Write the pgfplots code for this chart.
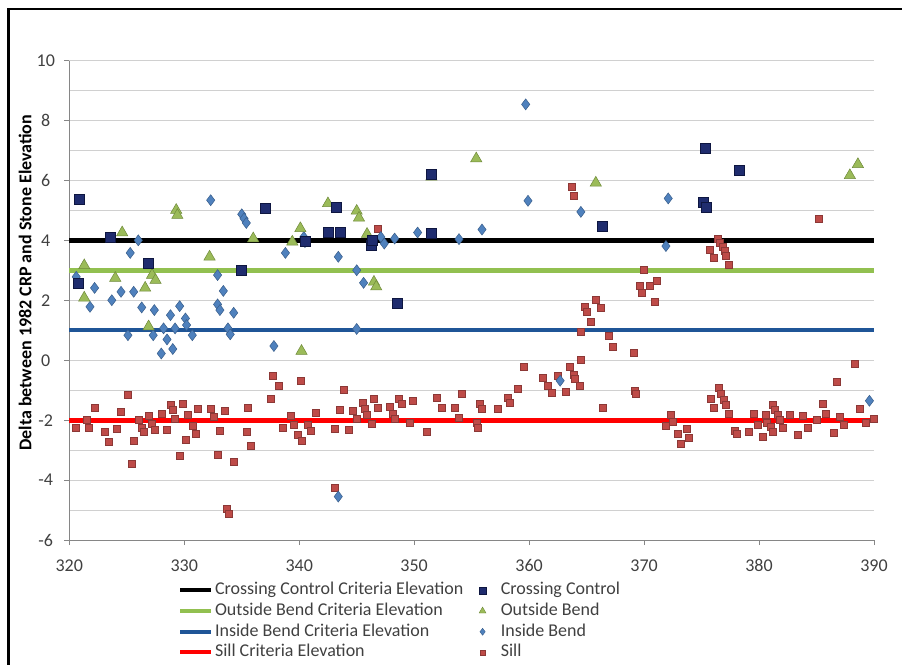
\documentclass[border=0pt]{standalone}
\usepackage{fontspec}
\setmainfont{Carlito}
\usepackage{pgfplots}
\pgfplotsset{compat=1.18}
\definecolor{ccfill}{HTML}{1F2C6E}
\definecolor{ccdraw}{HTML}{0E1640}
\definecolor{obfill}{HTML}{9BBB59}
\definecolor{obdraw}{HTML}{6F8A3A}
\definecolor{ibfill}{HTML}{4F81BD}
\definecolor{ibdraw}{HTML}{385D8A}
\definecolor{sifill}{HTML}{BE4B48}
\definecolor{sidraw}{HTML}{8C3836}
\definecolor{obline}{HTML}{92C050}
\definecolor{ibline}{HTML}{1F5597}
\definecolor{txt}{HTML}{404040}
\definecolor{gridc}{HTML}{D0D0D0}
\definecolor{axc}{HTML}{868686}
\pgfplotsset{
 critline/.style={legend image code/.code={\draw[##1] (0pt,0pt) -- (31pt,0pt);}},
 markimg/.style={legend image code/.code={\path (0pt,0pt) (21pt,0pt); \draw[##1] plot coordinates {(5pt,0pt)};}},
}
\begin{document}
\begin{tikzpicture}[x=1pt,y=1pt]
\path[use as bounding box] (0,0) rectangle (902,664);
\draw[line width=2.5pt] (8.3,-5) -- (8.3,655) -- (910,655);
\begin{axis}[
 at={(69.3pt,124pt)}, anchor=south west,
 width=804.7pt, height=479pt, scale only axis,
 xmin=320, xmax=390, ymin=-6, ymax=10,
 xtick={320,330,...,390}, ytick={-6,-4,...,10},
 minor y tick num=1,
 ymajorgrids, yminorgrids,
 major grid style={gridc, line width=1pt},
 minor grid style={gridc, line width=1pt},
 axis x line*=bottom, axis y line*=left,
 axis line style={axc, line width=1pt},
 tick style={axc, line width=1pt},
 major tick length=5pt, minor tick length=0pt,
 tick align=outside,
 clip=false,
 /pgf/number format/assume math mode=true,
 /pgf/number format/.cd, 1000 sep={}, /pgfplots/.cd,
 tick label style={font=\fontsize{18}{20}\selectfont, text=txt},
 yticklabel style={text width=22pt, align=center, xshift=-4pt},
 xticklabel style={yshift=-11pt},
 ylabel={Delta between 1982 CRP and Stone Elevation},
 ylabel style={font=\fontsize{18}{20}\selectfont\bfseries, text=black, at={(axis description cs:-0.055,0.537)}, anchor=center},
 legend columns=2,
 legend style={draw=none, fill=none, at={(axis description cs:0.1351,-0.0835)}, anchor=north west, inner sep=0pt, outer sep=0pt,
   font=\fontsize{18}{20}\selectfont, text=txt,
   nodes={inner xsep=2pt, inner ysep=1.85pt, text height=13pt, text depth=4pt},
   /tikz/every even column/.append style={column sep=12pt}},
 legend cell align=left,
]
% criteria lines
\addplot[forget plot, black, line width=5pt] coordinates {(320,4) (390,4)};
\addplot[forget plot, obline, line width=4.5pt] coordinates {(320,3) (390,3)};
\addplot[forget plot, ibline, line width=4pt] coordinates {(320,1) (390,1)};
% Sill
\addplot[forget plot, only marks, mark=square*, mark size=3.5pt, mark options={fill=sifill, draw=sidraw, line width=0.5pt}] coordinates {
(320.6,-2.24)(321.5,-1.97)(321.7,-2.24)(322.2,-1.57)(323.1,-2.37)(323.4,-2.73)(324.1,-2.28)(324.5,-1.72)(325.1,-1.16)(325.4,-3.45)
(325.6,-2.69)(326.0,-1.99)(326.3,-2.25)(326.5,-2.39)(326.9,-1.84)(327.2,-2.13)(327.4,-2.32)(328.0,-1.77)(328.5,-2.32)(328.8,-1.47)
(329.0,-1.66)(329.2,-1.94)(329.6,-3.17)(329.9,-1.46)(330.1,-2.64)(330.3,-1.80)(330.7,-2.17)(331.0,-2.44)(331.2,-1.62)(332.3,-1.62)
(332.6,-1.88)(332.9,-3.15)(333.1,-2.34)(333.5,-1.69)(333.7,-4.97)(333.9,-5.11)(334.3,-3.38)(335.4,-2.37)(335.5,-1.57)(335.8,-2.84)
(337.5,-1.27)(337.7,-0.51)(338.2,-0.86)(338.6,-2.25)(339.3,-1.86)(339.5,-2.14)(339.9,-2.47)(340.1,-0.68)(340.2,-2.68)(340.7,-2.14)
(341.0,-2.36)(341.4,-1.75)(343.1,-2.27)(343.1,-4.27)(343.5,-1.64)(343.9,-0.99)(344.3,-2.33)(344.7,-1.68)(345.0,-1.94)(345.5,-1.42)
(345.7,-1.60)(345.9,-1.80)(346.3,-2.13)(346.5,-1.29)(346.8,-1.58)(346.8,4.40)(347.9,-1.55)(348.1,-1.77)(348.3,-1.94)(348.7,-1.27)
(348.9,-1.46)(349.6,-2.10)(349.9,-1.35)(351.1,-2.40)(352.0,-1.24)(352.4,-1.59)(353.5,-1.57)(353.9,-1.90)(354.1,-1.12)(355.4,-2.08)
(355.5,-2.24)(355.7,-1.46)(355.9,-1.62)(357.3,-1.63)(358.1,-1.24)(358.3,-1.40)(359.0,-0.94)(359.5,-0.22)(361.2,-0.58)(361.6,-0.86)
(362.0,-1.07)(362.5,-0.52)(363.2,-1.05)(363.5,-0.22)(363.7,5.79)(363.9,5.51)(363.9,-0.49)(364.0,-0.63)(364.4,-0.86)(364.5,0.03)
(364.5,0.96)(364.8,1.80)(365.0,1.61)(365.4,1.28)(365.8,2.01)(366.2,1.75)(366.4,-1.57)(366.9,0.82)(367.3,0.45)(369.1,0.25)
(369.2,-1.02)(369.3,-1.12)(369.6,2.49)(369.8,2.26)(370.0,3.04)(370.5,2.48)(370.9,1.96)(371.1,2.65)(371.9,-2.18)(372.3,-1.83)
(372.5,-2.05)(372.9,-2.44)(373.2,-2.80)(373.7,-2.27)(373.9,-2.57)(375.7,3.71)(375.8,-1.27)(376.1,3.44)(376.1,-1.57)(376.4,4.07)
(376.5,-0.91)(376.6,3.94)(376.7,-1.10)(376.8,3.79)(376.9,-1.33)(377.0,3.66)(377.1,3.49)(377.1,-1.49)(377.4,3.21)(377.4,-1.79)
(377.9,-2.36)(378.1,-2.44)(379.1,-2.38)(379.5,-1.79)(379.9,-2.16)(380.3,-2.55)(380.6,-1.83)(380.7,-2.08)(381.0,-2.22)(381.2,-1.47)
(381.2,-2.38)(381.4,-1.64)(381.6,-1.83)(381.8,-1.99)(382.1,-2.24)(382.7,-1.83)(383.4,-2.49)(383.8,-1.86)(384.2,-2.24)(385.0,-1.99)
(385.2,4.74)(385.5,-1.46)(385.8,-1.77)(386.5,-2.42)(386.8,-0.71)(387.0,-1.88)(387.4,-2.16)(388.3,-0.12)(388.8,-1.60)(389.3,-2.07)
(390.0,-1.94)
};
\addplot[forget plot, red, line width=5pt] coordinates {(320,-2) (390,-2)};
% Inside Bend
\addplot[forget plot, only marks, mark=diamond*, mark size=5.5pt, mark options={fill=ibfill, draw=ibdraw, line width=0.5pt}] coordinates {
(320.6,2.79)(321.8,1.79)(322.2,2.42)(323.7,2.01)(324.5,2.29)(325.1,0.84)(325.3,3.59)(325.6,2.29)(326.0,4.01)(326.3,1.77)
(327.3,0.84)(327.4,1.68)(328.0,0.23)(328.2,1.07)(328.5,0.70)(328.8,1.51)(329.0,0.38)(329.2,1.07)(329.6,1.81)(330.1,1.40)
(330.2,1.18)(330.7,0.84)(332.3,5.35)(332.9,2.85)(332.9,1.87)(333.1,1.68)(333.4,2.32)(333.8,1.07)(334.0,0.87)(334.3,1.59)
(335.0,4.88)(335.2,4.74)(335.4,4.59)(337.8,0.48)(338.8,3.59)(340.4,4.12)(340.5,3.95)(343.4,3.46)(343.4,-4.55)(345.0,3.01)
(345.0,1.05)(345.6,2.59)(346.3,3.90)(347.1,4.12)(347.4,3.90)(348.3,4.07)(350.3,4.27)(353.9,4.05)(355.9,4.37)(359.7,8.55)
(359.9,5.33)(362.7,-0.68)(364.5,4.96)(371.9,3.82)(372.1,5.41)(389.6,-1.35)
};
% Outside Bend
\addplot[forget plot, only marks, mark=triangle*, mark size=6.5pt, mark options={fill=obfill, draw=obdraw, line width=0.5pt}] coordinates {
(321.3,3.17)(321.3,2.09)(324.0,2.75)(324.6,4.27)(326.6,2.42)(327.2,2.85)(327.5,2.68)(326.9,1.13)(329.3,5.02)(329.4,4.85)
(332.2,3.46)(336.0,4.07)(339.4,3.96)(340.1,4.41)(340.2,0.31)(342.5,5.24)(345.0,4.99)(345.2,4.76)(345.9,4.22)(346.5,2.62)
(346.7,2.46)(351.5,6.13)(355.4,6.74)(365.8,5.93)(387.9,6.18)(388.6,6.55)
};
% Crossing Control
\addplot[forget plot, only marks, mark=square*, mark size=5pt, mark options={fill=ccfill, draw=ccdraw, line width=0.8pt}] coordinates {
(320.9,5.38)(320.8,2.58)(323.6,4.10)(326.9,3.23)(335.0,3.00)(337.1,5.08)(340.5,3.98)(343.2,5.11)(342.5,4.28)(343.6,4.28)
(346.3,3.85)(346.4,4.00)(348.5,1.89)(351.5,4.24)(351.5,6.21)(366.4,4.46)(375.3,7.09)(375.2,5.28)(375.4,5.11)(378.3,6.35)
};
% legend
\addlegendimage{critline, black, line width=4pt}
\addlegendentry{Crossing Control Criteria Elevation}
\addlegendimage{markimg, only marks, mark=square*, mark size=3.5pt, mark options={fill=ccfill, draw=ccdraw}}
\addlegendentry{Crossing Control}
\addlegendimage{critline, obline, line width=4pt}
\addlegendentry{Outside Bend Criteria Elevation}
\addlegendimage{markimg, only marks, mark=triangle*, mark size=4pt, mark options={fill=obfill, draw=obdraw}}
\addlegendentry{Outside Bend}
\addlegendimage{critline, ibline, line width=4pt}
\addlegendentry{Inside Bend Criteria Elevation}
\addlegendimage{markimg, only marks, mark=diamond*, mark size=3.5pt, mark options={fill=ibfill, draw=ibdraw}}
\addlegendentry{Inside Bend}
\addlegendimage{critline, red, line width=4pt}
\addlegendentry{Sill Criteria Elevation}
\addlegendimage{markimg, only marks, mark=square*, mark size=2.5pt, mark options={fill=sifill, draw=sidraw}}
\addlegendentry{Sill}
\end{axis}
\end{tikzpicture}
\end{document}
